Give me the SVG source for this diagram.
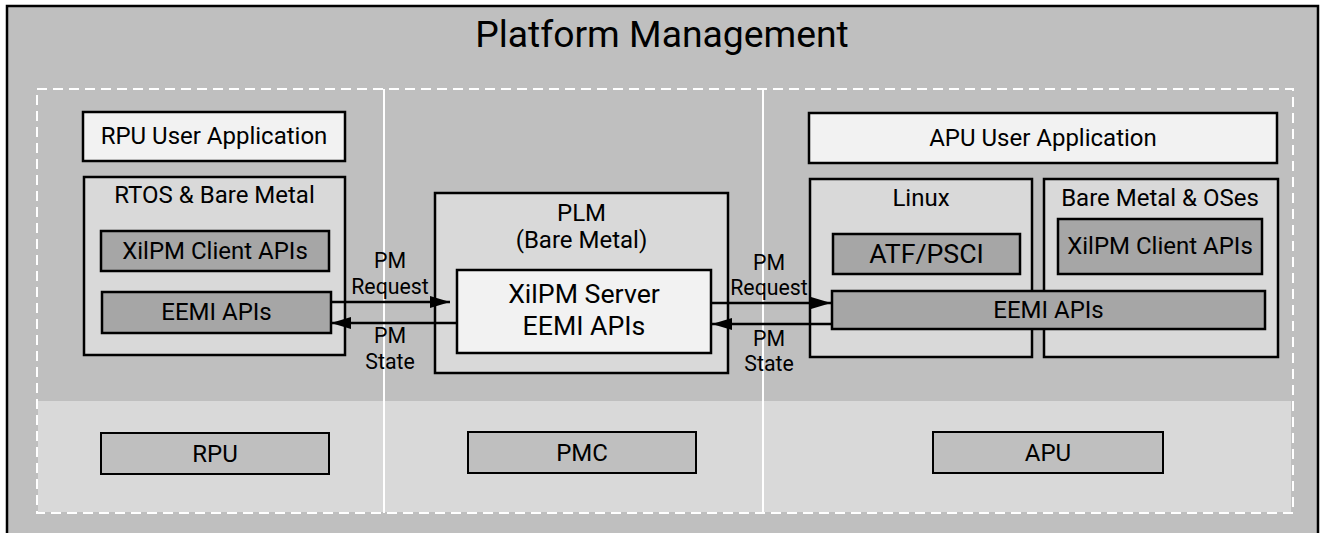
<svg xmlns="http://www.w3.org/2000/svg" width="1324" height="533" viewBox="0 0 1324 533">
<defs>
<marker id="ah" viewBox="0 0 20 12" refX="20" refY="6" markerWidth="20" markerHeight="12" markerUnits="userSpaceOnUse" orient="auto">
<path d="M0,0 L20,6 L0,12 Z" fill="#000"/>
</marker>
<style>
text{font-family:Roboto,"Liberation Sans",sans-serif;fill:#000;text-anchor:middle}
.t24{font-size:24px}
.t27{font-size:26.7px}
.t21{font-size:21.3px}
.box{stroke:#000;stroke-width:2.5}
.white{fill:#f2f2f2}
.light{fill:#d9d9d9}
.dark{fill:#a6a6a6}
.mid{fill:#bfbfbf}
.conn{stroke:#000;stroke-width:2.5;fill:none;marker-end:url(#ah)}
</style>
</defs>
<rect x="0" y="0" width="1324" height="533" fill="#ffffff"/>
<g id="platform">
<rect x="7" y="6" width="1311" height="540" fill="#bfbfbf" stroke="#000" stroke-width="2.5"/>
<text x="662" y="47" style="font-size:37.3px">Platform Management</text>
</g>
<g id="regions">
<rect x="38" y="401" width="1253" height="111" fill="#d9d9d9"/>
<line x1="384" y1="89" x2="384" y2="513" stroke="#fff" stroke-width="2"/>
<line x1="763" y1="89" x2="763" y2="513" stroke="#fff" stroke-width="2"/>
<rect x="37" y="89" width="1256" height="424" fill="none" stroke="#fff" stroke-width="2" stroke-dasharray="10,6"/>
</g>
<g id="rpu-app">
<rect class="box white" x="83" y="112" width="262" height="49"/>
<text class="t24" x="214" y="144">RPU User Application</text>
</g>
<g id="rtos">
<rect class="box light" x="84" y="177" width="261" height="178"/>
<text class="t24" x="214.5" y="203">RTOS &amp; Bare Metal</text>
</g>
<g id="xilpm-client-left">
<rect class="box dark" x="101" y="231" width="228" height="40"/>
<text class="t24" x="215" y="259">XilPM Client APIs</text>
</g>
<g id="eemi-left">
<rect class="box dark" x="102" y="292" width="229" height="41"/>
<text class="t24" x="216.5" y="320">EEMI APIs</text>
</g>
<g id="plm">
<rect class="box light" x="435" y="193" width="293" height="180"/>
<text class="t24" x="581.5" y="221">PLM</text>
<text class="t24" x="581.5" y="248">(Bare Metal)</text>
</g>
<g id="xilpm-server">
<rect class="box white" x="457" y="270" width="254" height="83"/>
<text class="t27" x="584" y="303">XilPM Server</text>
<text class="t27" x="584" y="335">EEMI APIs</text>
</g>
<g id="apu-app">
<rect class="box white" x="809" y="113" width="468" height="50"/>
<text class="t24" x="1043" y="146">APU User Application</text>
</g>
<g id="linux">
<rect class="box light" x="810" y="179" width="222" height="178"/>
<text class="t24" x="921" y="206">Linux</text>
</g>
<g id="baremetal-oses">
<rect class="box light" x="1044" y="179" width="234" height="178"/>
<text class="t24" x="1160" y="206">Bare Metal &amp; OSes</text>
</g>
<g id="atf">
<rect class="box dark" x="833" y="234" width="187" height="40"/>
<text class="t27" x="926.5" y="263">ATF/PSCI</text>
</g>
<g id="xilpm-client-right">
<rect class="box dark" x="1058" y="219" width="204" height="55"/>
<text class="t24" x="1160" y="254">XilPM Client APIs</text>
</g>
<g id="eemi-right">
<rect class="box dark" x="832" y="291" width="433" height="38"/>
<text class="t24" x="1048.5" y="318">EEMI APIs</text>
</g>
<g id="rpu">
<rect class="box mid" x="101" y="433" width="228" height="41" style="stroke-width:2"/>
<text class="t24" x="215" y="462">RPU</text>
</g>
<g id="pmc">
<rect class="box mid" x="468" y="432" width="228" height="41" style="stroke-width:2"/>
<text class="t24" x="582" y="461">PMC</text>
</g>
<g id="apu">
<rect class="box mid" x="933" y="432" width="230" height="41" style="stroke-width:2"/>
<text class="t24" x="1048" y="461">APU</text>
</g>
<g id="connectors">
<line class="conn" x1="331" y1="302" x2="450" y2="302"/>
<line class="conn" x1="457" y1="323" x2="331" y2="323"/>
<line class="conn" x1="711" y1="303" x2="831" y2="303"/>
<line class="conn" x1="832" y1="324" x2="712" y2="324"/>
<text class="t21" x="390" y="268">PM</text>
<text class="t21" x="390" y="294">Request</text>
<text class="t21" x="390" y="343">PM</text>
<text class="t21" x="390" y="369">State</text>
<text class="t21" x="769" y="270">PM</text>
<text class="t21" x="769" y="295">Request</text>
<text class="t21" x="769" y="346">PM</text>
<text class="t21" x="769" y="371">State</text>
</g>
</svg>
